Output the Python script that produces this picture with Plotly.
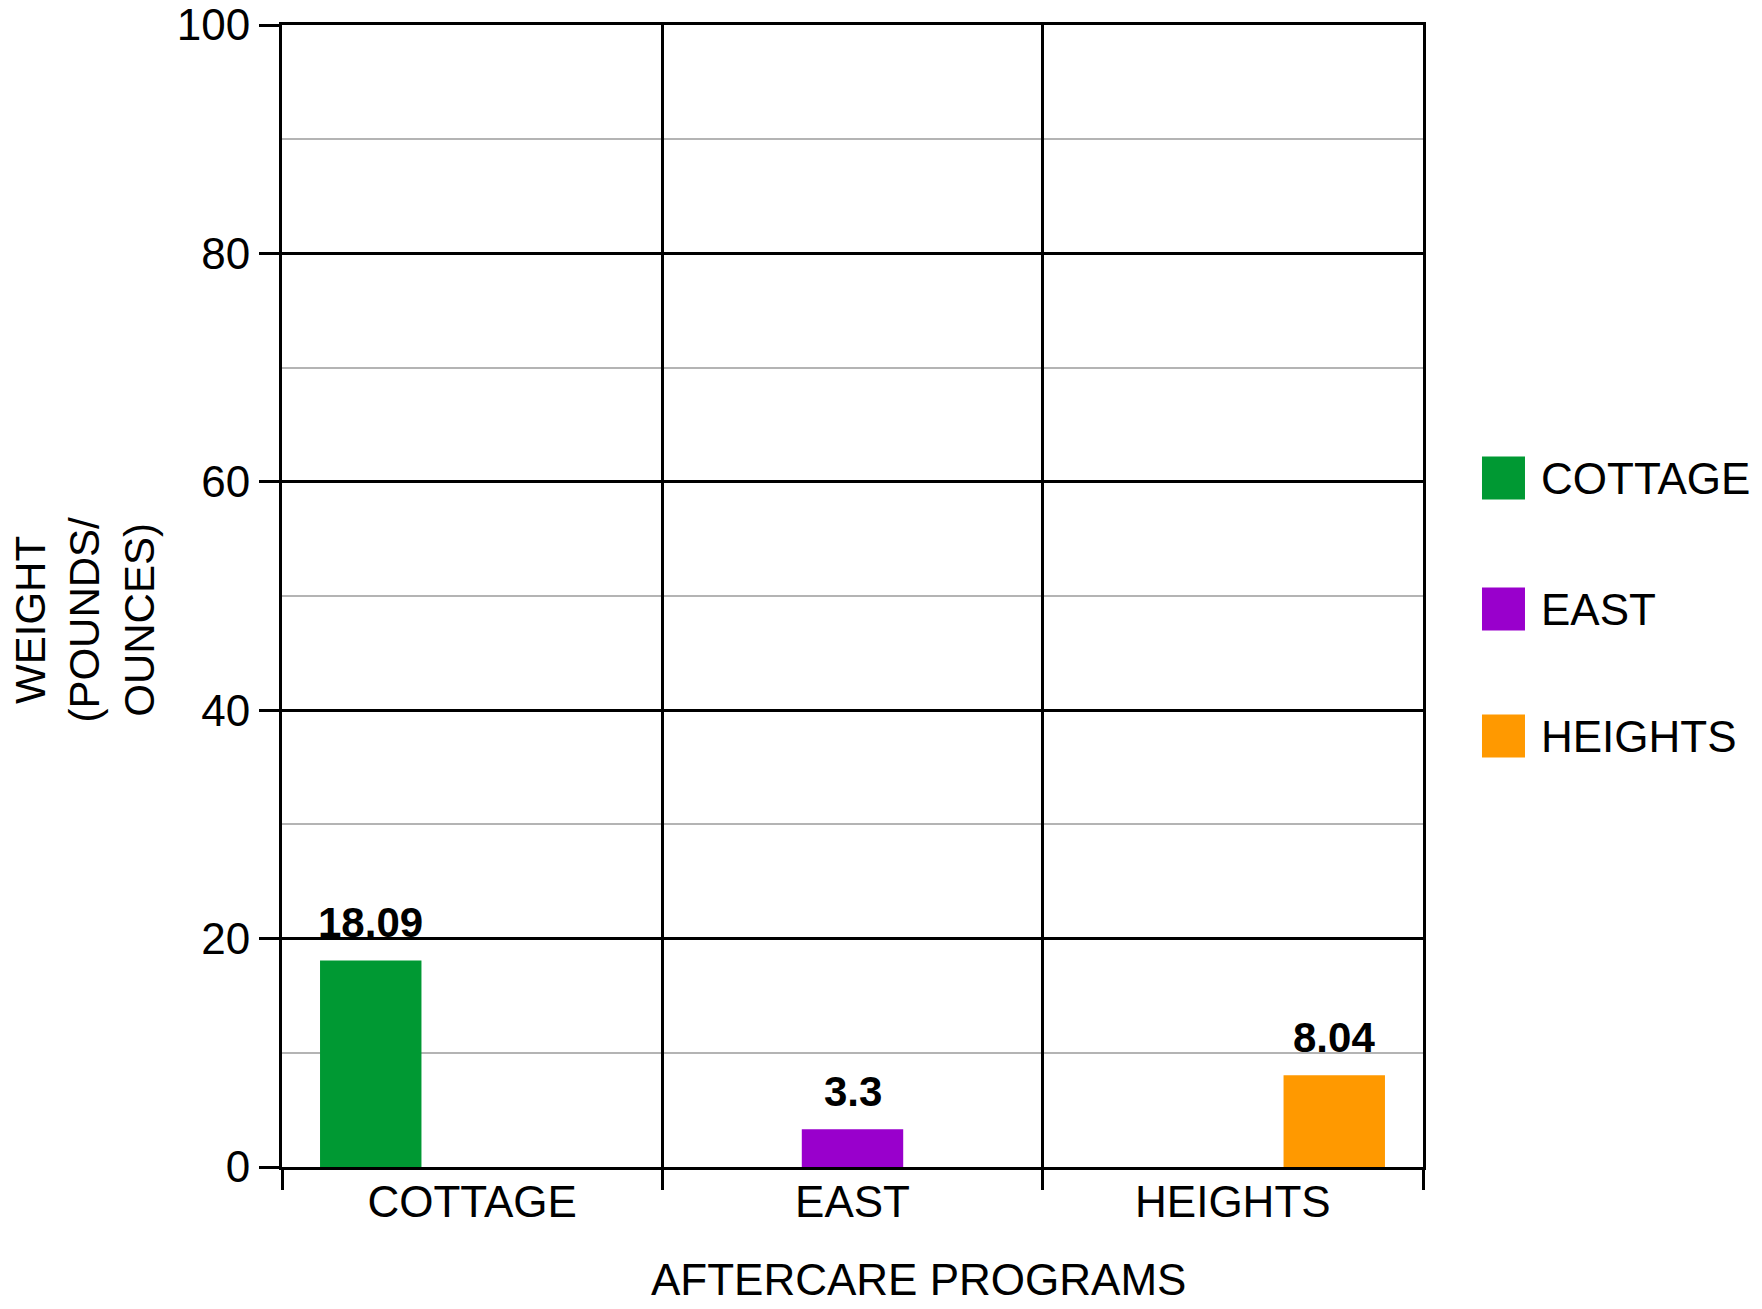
import plotly.graph_objects as go

categories = ["COTTAGE", "EAST", "HEIGHTS"]
series_names = ["COTTAGE", "EAST", "HEIGHTS"]
series_values = [18.09, 3.3, 8.04]
series_colors = ["#009933", "#9900CC", "#FF9900"]
value_labels = ["18.09", "3.3", "8.04"]
x_title = "AFTERCARE PROGRAMS"
y_title = "WEIGHT<br>(POUNDS/<br>OUNCES)"

FONT = "Liberation Sans, Arial, sans-serif"
BARGAP = 0.2

fig = go.Figure()
for name, val, col in zip(series_names, series_values, series_colors):
    ys = [val if c == name else None for c in categories]
    fig.add_trace(go.Bar(x=categories, y=ys, name=name, marker_color=col,
                         marker_line_width=0, showlegend=False))

n = len(series_names)
slot = (1 - BARGAP) / n
annotations = []
for j, (name, val, lab) in enumerate(zip(series_names, series_values, value_labels)):
    ci = categories.index(name)
    xpos = ci + (j - (n - 1) / 2) * slot
    annotations.append(dict(x=xpos, y=val, xref="x", yref="y", text="<b>%s</b>" % lab,
                            showarrow=False, yanchor="bottom", yshift=12,
                            font=dict(family=FONT, size=42, color="black")))

# axis titles
annotations.append(dict(x=0.558, y=-0.0985, xref="paper", yref="paper", text=x_title,
                        showarrow=False, xanchor="center", yanchor="middle",
                        font=dict(family=FONT, size=44, color="black")))
annotations.append(dict(x=-0.173, y=0.479, xref="paper", yref="paper", text=y_title,
                        showarrow=False, xanchor="center", yanchor="middle", textangle=-90,
                        align="center",
                        font=dict(family=FONT, size=42, color="black")))

# manual legend
legend_y = [0.6033, 0.4886, 0.3774]
shapes = []
for name, col, ly in zip(series_names, series_colors, legend_y):
    shapes.append(dict(type="rect", xref="paper", yref="paper",
                       xsizemode="pixel", ysizemode="pixel",
                       xanchor=1.0517, yanchor=ly, x0=0, x1=43, y0=-21.5, y1=21.5,
                       fillcolor=col, line=dict(width=0)))
    annotations.append(dict(x=1.1017, y=ly, xref="paper", yref="paper", text=name,
                            showarrow=False, xanchor="left", yanchor="middle",
                            font=dict(family=FONT, size=44, color="black")))

# page body has an 8px default margin; size the figure to fit the window
fig.update_layout(
    width=1746, height=1293,
    margin=dict(l=274, r=331, t=17, b=134, pad=0, autoexpand=False),
    paper_bgcolor="white", plot_bgcolor="white",
    barmode="group", bargap=BARGAP, bargroupgap=0,
    font=dict(family=FONT, size=44, color="black"),
    showlegend=False,
    annotations=annotations, shapes=shapes,
)
fig.update_xaxes(
    type="category", tickson="boundaries", automargin=False,
    showgrid=True, gridcolor="black", gridwidth=2.5,
    showline=True, linecolor="black", linewidth=3, mirror=True,
    ticks="outside", ticklen=20, tickwidth=2.5, tickcolor="black",
    tickfont=dict(family=FONT, size=44, color="black"),
    ticklabelstandoff=-6,
    zeroline=False,
)
fig.update_yaxes(
    range=[0, 100], dtick=20, tick0=0, automargin=False,
    showgrid=True, gridcolor="black", gridwidth=2.5,
    minor=dict(dtick=10, showgrid=True, gridcolor="#b4b4b4", gridwidth=2),
    showline=True, linecolor="black", linewidth=3, mirror=True,
    ticks="outside", ticklen=20, tickwidth=2.5, tickcolor="black",
    tickfont=dict(family=FONT, size=44, color="black"),
    ticklabeloverflow="allow",
    zeroline=False,
)

fig.write_html("out.html")
